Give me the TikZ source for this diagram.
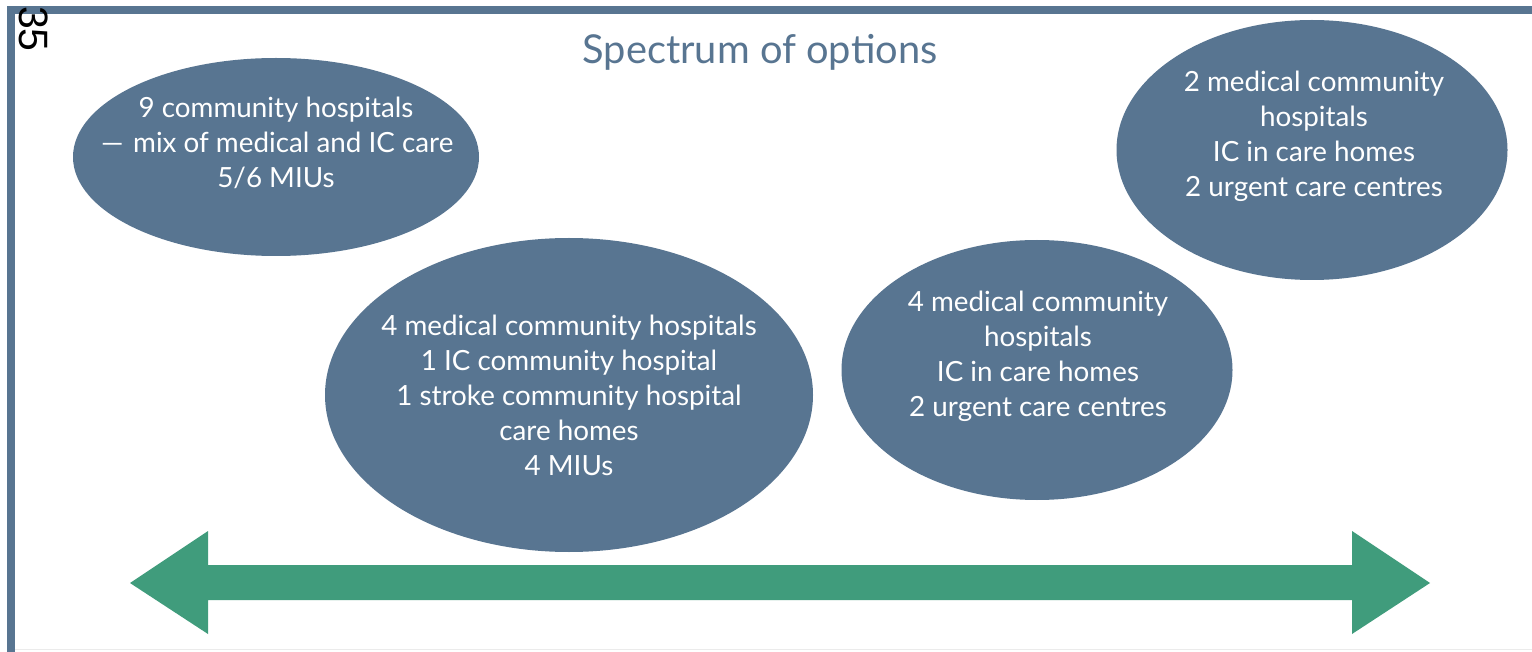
\documentclass[tikz,border=0pt]{standalone}
\usepackage{fontspec}
\setmainfont{Lato}
\setsansfont{Liberation Sans}
\usetikzlibrary{shapes.geometric}
\definecolor{slate}{HTML}{587591}
\definecolor{arrowgreen}{HTML}{409C7C}
\begin{document}
\begin{tikzpicture}[x=1pt,y=-1pt,
  blob/.style={ellipse, fill=slate, draw=none, inner sep=0pt},
  blobtext/.style={text=white, align=center, font=\fontsize{27.8}{35}\selectfont, inner sep=0pt}]
\useasboundingbox (0,0) rectangle (1532,652);
\fill[white] (0,0) rectangle (1532,652);
% frame
\fill[slate] (7,6) rectangle (1532,14);
\fill[slate] (7,6) rectangle (15,652);
\draw[black!8, line width=1pt] (15,649) -- (1532,649);
% page number
\node[rotate=-90, font=\sffamily\fontsize{41}{41}\selectfont, inner sep=0pt] (pnum) at (34,29) {35};
% title
\node[text=slate, font=\fontsize{39.8}{44}\selectfont, inner sep=0pt] (title) at (760,52) {Spectrum of options};
% ellipses
\node[blob, minimum width=406, minimum height=198] (e1) at (276,157) {};
\node[blob, minimum width=488, minimum height=314] (e2) at (569,395) {};
\node[blob, minimum width=391, minimum height=260] (e3) at (1037,370) {};
\node[blob, minimum width=391, minimum height=260] (e4) at (1312,150) {};
\node[blobtext] (t1) at (276,143) {9 community hospitals\\ \scalebox{1.7}[1]{–} mix of medical and IC care\\ 5/6 MIUs};
\node[blobtext] (t2) at (569,395) {4 medical community hospitals\\ 1 IC community hospital\\ 1 stroke community hospital\\ care homes\\ 4 MIUs};
\node[blobtext] (t3) at (1038,356) {4 medical community\\ hospitals\\ IC in care homes\\ 2 urgent care centres};
\node[blobtext] (t4) at (1314,136) {2 medical community\\ hospitals\\ IC in care homes\\ 2 urgent care centres};
% double arrow
\coordinate (ltip) at (130,583);
\coordinate (rtip) at (1430,583);
\fill[arrowgreen] (ltip) -- (208,531) -- (208,565) -- (1352,565) -- (1352,531) -- (rtip)
  -- (1352,634) -- (1352,600) -- (208,600) -- (208,634) -- cycle;
\end{tikzpicture}
\end{document}
